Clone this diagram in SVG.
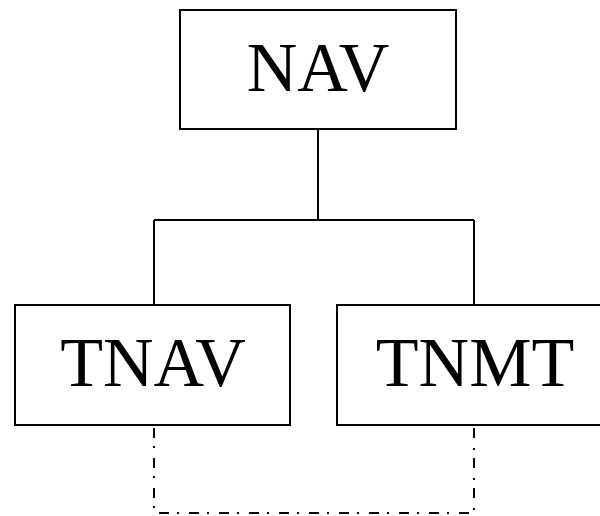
<svg xmlns="http://www.w3.org/2000/svg" width="600" height="516" viewBox="0 0 600 516">
<style>
.box{fill:#fff;stroke:#000;stroke-width:2}
.lbl{font-family:"Liberation Serif","Times New Roman",serif;font-size:70px;fill:#000;text-anchor:middle}
.ln{fill:none;stroke:#000;stroke-width:2}
.dd{fill:none;stroke:#000;stroke-width:2;stroke-dasharray:10 8 2 10}
</style>
<rect width="600" height="516" fill="#fff"/>
<g id="connectors">
<path class="ln" d="M318 129 V220 M154 220 H474 M154 220 V305 M474 220 V305"/>
<path class="dd" d="M154 428 V513 H474 V428"/>
</g>
<g id="nav">
<rect class="box" x="180" y="10" width="276" height="119"/>
<text class="lbl" x="318" y="91">NAV</text>
</g>
<g id="tnav">
<rect class="box" x="15" y="305" width="275" height="120"/>
<text class="lbl" x="153" y="386">TNAV</text>
</g>
<g id="tnmt">
<rect class="box" x="337" y="305" width="280" height="120"/>
<text class="lbl" x="475" y="386">TNMT</text>
</g>
</svg>
